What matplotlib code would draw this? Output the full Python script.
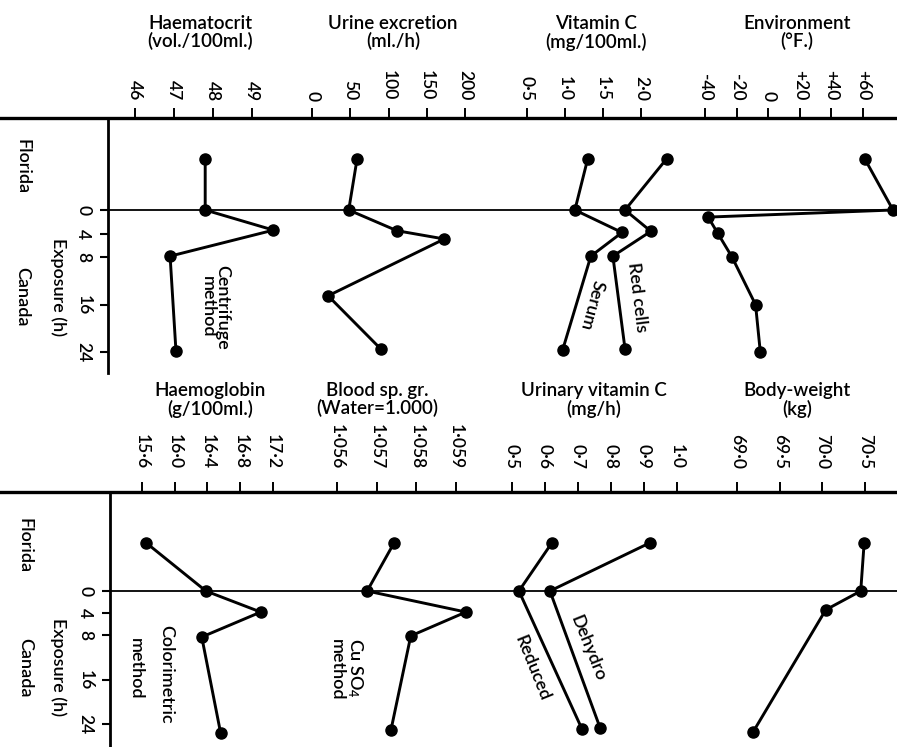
import matplotlib
matplotlib.use("Agg")
import matplotlib.pyplot as plt

plt.rcParams['font.family'] = ['Lato', 'DejaVu Sans']
plt.rcParams['font.weight'] = 'semibold'
plt.rcParams['mathtext.default'] = 'regular'

W, H = 897, 747
FL = -8.7  # plotting position of the Florida (pre-exposure) reading

# ---------------- upper panel ----------------
hct_time = [FL, 0, 3.4, 7.8, 23.8]
hct = [47.8, 47.8, 49.55, 46.9, 47.05]

urine_time = [FL, 0, 3.5, 4.9, 14.5, 23.5]
urine = [59, 48, 111, 173, 21, 90]

serum_time = [FL, 0, 3.8, 7.8, 23.6]
serum_vc = [1.30, 1.13, 1.75, 1.34, 0.97]
redcell_time = [FL, 0, 3.6, 7.8, 23.5]
redcell_vc = [2.34, 1.79, 2.13, 1.63, 1.79]

env_time = [FL, 0, 1.2, 3.9, 7.9, 16, 24]
env_temp = [61, 79, -38, -32, -23, -8, -5]

# ---------------- lower panel ----------------
hb_time = [FL, 0, 3.8, 8.3, 25.6]
hb = [15.65, 16.38, 17.05, 16.33, 16.56]

sg_time = [FL, 0, 3.8, 8.1, 25.1]
sg = [1.05744, 1.05676, 1.05925, 1.05786, 1.05736]

reduced_time = [FL, 0, 24.9]
reduced_uvc = [0.621, 0.521, 0.712]
dehydro_time = [FL, 0, 24.7]
dehydro_uvc = [0.918, 0.615, 0.767]

bw_time = [FL, 0, 3.4, 25.4]
bw = [70.49, 70.45, 70.04, 69.19]

# ---------------- axis ticks ----------------
time_ticks = [0, 4, 8, 16, 24]
time_labels = ["0", "4", "8", "16", "24"]

hct_ticks = [46, 47, 48, 49]
hct_labels = ["46", "47", "48", "49"]
urine_ticks = [0, 50, 100, 150, 200]
urine_labels = ["0", "50", "100", "150", "200"]
vc_ticks = [0.5, 1.0, 1.5, 2.0]
vc_labels = ["0·5", "1·0", "1·5", "2·0"]
env_ticks = [-40, -20, 0, 20, 40, 60]
env_labels = ["-40", "-20", "0", "+20", "+40", "+60"]

hb_ticks = [15.6, 16.0, 16.4, 16.8, 17.2]
hb_labels = ["15·6", "16·0", "16·4", "16·8", "17·2"]
sg_ticks = [1.056, 1.057, 1.058, 1.059]
sg_labels = ["1·056", "1·057", "1·058", "1·059"]
uvc_ticks = [0.5, 0.6, 0.7, 0.8, 0.9, 1.0]
uvc_labels = ["0·5", "0·6", "0·7", "0·8", "0·9", "1·0"]
bw_ticks = [69.0, 69.5, 70.0, 70.5]
bw_labels = ["69·0", "69·5", "70·0", "70·5"]

TICK_FS = 12.5
TITLE_FS = 13.5
TEXT_FS = 13

fig = plt.figure(figsize=(W / 100, H / 100), dpi=100)
fig.patch.set_facecolor("white")


def fx(px):
    return px / W


def fy(py):
    return 1 - py / H


LINE = dict(color="k", lw=2.1, marker="o", ms=8, clip_on=False,
            solid_joinstyle="round")


def make_frame(left, top, bottom, zero_px, day_px):
    """Panel frame: exposure-time axis on the left, rule across the top."""
    ax = fig.add_axes([fx(left), fy(bottom), 1 - fx(left), fy(top) - fy(bottom)])
    s = (day_px - zero_px) / 24.0
    t_top = (top - zero_px) / s
    t_bot = (bottom - zero_px) / s
    ax.set_ylim(t_bot, t_top)
    ax.set_xlim(0, 1)
    for side in ("top", "right", "bottom"):
        ax.spines[side].set_visible(False)
    ax.spines["left"].set_linewidth(2.0)
    ax.patch.set_visible(False)
    ax.plot([-left / (W - left), 1], [t_top, t_top], color="k", lw=2.4,
            transform=ax.get_yaxis_transform(), clip_on=False)
    ax.axhline(0, color="k", lw=1.3)
    ax.set_yticks(time_ticks)
    ax.set_yticklabels(time_labels, rotation=-90, va="center")
    ax.tick_params(axis="y", direction="out", length=6, width=1.5, pad=6,
                   labelsize=TICK_FS)
    return ax


def value_axis(frame, left, anchors, ticks, labels, pad):
    """A transparent twin sharing the time axis, with its own top scale."""
    (v0, p0), (v1, p1) = anchors
    ax = frame.twiny()
    s = (p1 - p0) / (v1 - v0)
    ax.set_xlim(v0 - (p0 - left) / s, v0 + (W - p0) / s)
    ax.set_xticks(ticks)
    ax.set_xticklabels(labels, rotation=-90)
    for sp in ax.spines.values():
        sp.set_visible(False)
    ax.patch.set_visible(False)
    ax.tick_params(axis="x", direction="out", length=7.5, width=1.4, pad=pad,
                   labelsize=TICK_FS)
    return ax


# ================= upper panel =================
top = make_frame(108, 118, 373, 210, 352)
a = value_axis(top, 108, [(46, 135), (49, 252)], hct_ticks, hct_labels, 5)
a.plot(hct, hct_time, **LINE)
a = value_axis(top, 108, [(0, 312), (200, 465)], urine_ticks, urine_labels, 5)
a.plot(urine, urine_time, **LINE)
a = value_axis(top, 108, [(0.5, 527), (2.0, 641)], vc_ticks, vc_labels, 5)
a.plot(serum_vc, serum_time, **LINE)
a.plot(redcell_vc, redcell_time, **LINE)
a = value_axis(top, 108, [(-40, 705), (60, 863)], env_ticks, env_labels, 5)
a.plot(env_temp, env_time, **LINE)
top.set_xticks([])

# ================= lower panel =================
bot = make_frame(110, 492, 747, 591, 724)
a = value_axis(bot, 110, [(15.6, 142), (17.2, 273)], hb_ticks, hb_labels, 9)
a.plot(hb, hb_time, **LINE)
a = value_axis(bot, 110, [(1.056, 337), (1.059, 456)], sg_ticks, sg_labels, 9)
a.plot(sg, sg_time, **LINE)
a = value_axis(bot, 110, [(0.5, 512), (1.0, 677)], uvc_ticks, uvc_labels, 9)
a.plot(reduced_uvc, reduced_time, **LINE)
a.plot(dehydro_uvc, dehydro_time, **LINE)
a = value_axis(bot, 110, [(69.0, 737), (70.5, 865)], bw_ticks, bw_labels, 9)
a.plot(bw, bw_time, **LINE)
bot.set_xticks([])


def label(px, py, s, rot=0, size=TEXT_FS, **kw):
    fig.text(fx(px), fy(py), s, fontsize=size, rotation=rot, ha="center",
             va="center",
             rotation_mode="anchor" if rot not in (0, -90) else "default",
             **kw)


# column headings
for (px, py), s in [((200, 33), "Haematocrit\n(vol./100ml.)"),
                    ((393, 33), "Urine excretion\n(ml./h)"),
                    ((596, 33), "Vitamin C\n(mg/100ml.)"),
                    ((797, 33), "Environment\n(°F.)"),
                    ((210, 400), "Haemoglobin\n(g/100ml.)"),
                    ((377, 400), "Blood sp. gr.\n(Water=1.000)"),
                    ((594, 400), "Urinary vitamin C\n(mg/h)"),
                    ((797, 400), "Body-weight\n(kg)")]:
    fig.text(fx(px), fy(py), s, fontsize=TITLE_FS, ha="center", va="center",
             linespacing=1.0, multialignment="center")

# time-axis annotations
for (fl, ca, ex) in [((22, 167), (22, 297), (58, 287)),
                     ((24, 546), (25, 668), (58, 667))]:
    label(*fl, "Florida", rot=-90)
    label(*ca, "Canada", rot=-90)
    label(*ex, "Exposure (h)", rot=-90)

# curve annotations
fig.text(fx(215), fy(307), "Centrifuge\nmethod", fontsize=TEXT_FS, rotation=-90,
         ha="center", va="center", linespacing=0.9)
label(592, 305, "Serum", rot=-105)
label(637, 297, "Red cells", rot=-83)
label(166, 674, "Colorimetric", rot=-90)
label(136, 669, "method", rot=-90)
label(355, 668, "Cu SO$_4$", rot=-90)
label(337, 670, "method", rot=-90)
label(532, 668, "Reduced", rot=-68)
label(588, 648, "Dehydro", rot=-68)

fig.savefig("out.png", dpi=100, facecolor="white")
